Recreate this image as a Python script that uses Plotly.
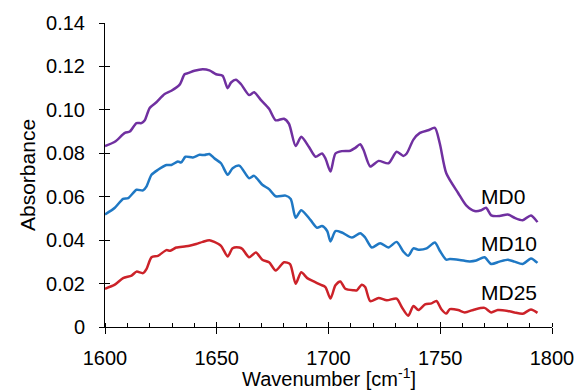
import plotly.graph_objects as go

# FTIR absorbance spectra, amide I region
wn_md0 = [1600.0, 1604.4, 1608.9, 1611.1, 1614.1, 1616.3, 1617.8, 1620.0, 1623.0, 1626.7,
          1629.7, 1633.4, 1635.6, 1637.1, 1640.0, 1643.7, 1646.7, 1649.7, 1652.6, 1654.9,
          1656.4, 1658.6, 1660.8, 1664.5, 1666.7, 1669.7, 1673.4, 1676.4, 1680.1, 1682.3,
          1685.3, 1687.8, 1691.2, 1694.2, 1697.1, 1698.6, 1700.9, 1703.1, 1706.0, 1709.8,
          1712.0, 1714.2, 1715.7, 1718.7, 1722.4, 1726.8, 1730.5, 1733.5, 1735.0, 1738.0,
          1740.9, 1744.6, 1747.6, 1749.8, 1752.7, 1758.0, 1761.6, 1765.4, 1768.3, 1770.5,
          1772.8, 1776.5, 1780.2, 1783.2, 1786.9, 1790.6, 1793.5]
abs_md0 = [0.0833, 0.0853, 0.0894, 0.0900, 0.0939, 0.0939, 0.0952, 0.1009, 0.1035, 0.1073,
           0.1088, 0.1116, 0.1164, 0.1169, 0.1180, 0.1187, 0.1182, 0.1164, 0.1157, 0.1100,
           0.1126, 0.1139, 0.1119, 0.1068, 0.1081, 0.1046, 0.1005, 0.0952, 0.0959, 0.0936,
           0.0833, 0.0876, 0.0830, 0.0784, 0.0799, 0.0777, 0.0716, 0.0799, 0.0810, 0.0812,
           0.0825, 0.0842, 0.0815, 0.0739, 0.0765, 0.0754, 0.0807, 0.0788, 0.0799, 0.0863,
           0.0894, 0.0906, 0.0917, 0.0845, 0.0708, 0.0617, 0.0560, 0.0534, 0.0538, 0.0549,
           0.0514, 0.0511, 0.0518, 0.0503, 0.0492, 0.0514, 0.0483]

wn_md10 = [1600.0, 1604.4, 1608.1, 1610.4, 1614.1, 1617.0, 1618.6, 1620.8, 1623.7, 1627.5,
           1629.7, 1632.6, 1634.1, 1636.0, 1639.3, 1642.3, 1644.5, 1646.7, 1648.9, 1651.9,
           1654.9, 1657.1, 1660.1, 1664.5, 1666.7, 1670.4, 1673.4, 1676.4, 1680.8, 1683.1,
           1685.3, 1687.8, 1692.0, 1694.9, 1697.1, 1699.4, 1700.9, 1703.1, 1706.0, 1710.5,
           1714.2, 1716.4, 1719.4, 1723.1, 1726.8, 1730.5, 1733.5, 1735.7, 1738.0, 1740.2,
           1743.9, 1747.6, 1749.8, 1752.7, 1754.3, 1758.7, 1763.2, 1766.1, 1769.8, 1772.8,
           1776.5, 1780.2, 1783.2, 1786.9, 1790.6, 1793.5]
abs_md10 = [0.0518, 0.0549, 0.0590, 0.0594, 0.0632, 0.0629, 0.0648, 0.0701, 0.0724, 0.0746,
            0.0746, 0.0762, 0.0758, 0.0784, 0.0781, 0.0793, 0.0792, 0.0797, 0.0777, 0.0754,
            0.0701, 0.0731, 0.0743, 0.0685, 0.0696, 0.0655, 0.0635, 0.0602, 0.0605, 0.0590,
            0.0503, 0.0538, 0.0492, 0.0457, 0.0465, 0.0442, 0.0394, 0.0442, 0.0435, 0.0412,
            0.0432, 0.0412, 0.0366, 0.0386, 0.0366, 0.0392, 0.0347, 0.0328, 0.0362, 0.0356,
            0.0362, 0.0389, 0.0351, 0.0310, 0.0313, 0.0309, 0.0302, 0.0306, 0.0321, 0.0290,
            0.0301, 0.0310, 0.0301, 0.0290, 0.0316, 0.0295]

wn_md25 = [1600.0, 1604.4, 1608.1, 1611.9, 1614.1, 1617.0, 1618.6, 1620.8, 1623.7, 1627.5,
           1629.2, 1631.9, 1635.6, 1637.8, 1640.8, 1643.7, 1646.7, 1648.9, 1651.9, 1654.9,
           1657.1, 1660.1, 1661.5, 1664.5, 1667.5, 1670.4, 1673.4, 1676.4, 1680.1, 1682.8,
           1685.3, 1687.8, 1690.5, 1693.4, 1696.4, 1698.6, 1700.9, 1703.1, 1705.3, 1707.5,
           1711.2, 1712.7, 1714.9, 1716.4, 1718.7, 1722.4, 1726.1, 1730.5, 1732.7, 1735.7,
           1738.0, 1740.2, 1743.2, 1746.1, 1748.3, 1750.5, 1752.7, 1754.3, 1758.0, 1761.0,
           1765.4, 1769.8, 1772.8, 1775.7, 1780.2, 1783.2, 1786.9, 1790.6, 1793.5]
abs_md25 = [0.0176, 0.0195, 0.0225, 0.0237, 0.0255, 0.0248, 0.0268, 0.0321, 0.0328, 0.0354,
            0.0351, 0.0366, 0.0371, 0.0374, 0.0382, 0.0392, 0.0400, 0.0392, 0.0374, 0.0325,
            0.0363, 0.0366, 0.0359, 0.0321, 0.0343, 0.0310, 0.0298, 0.0260, 0.0298, 0.0290,
            0.0199, 0.0252, 0.0225, 0.0210, 0.0195, 0.0184, 0.0131, 0.0192, 0.0210, 0.0176,
            0.0169, 0.0169, 0.0195, 0.0184, 0.0119, 0.0134, 0.0123, 0.0131, 0.0093, 0.0052,
            0.0097, 0.0078, 0.0104, 0.0109, 0.0120, 0.0082, 0.0062, 0.0082, 0.0078, 0.0067,
            0.0081, 0.0088, 0.0067, 0.0078, 0.0074, 0.0067, 0.0061, 0.0081, 0.0065]

series_names = ["MD0", "MD10", "MD25"]
series_colors = ["#7030A0", "#1F78C4", "#CC2229"]
# where each series' name is written (right edge of text, vertical centre)
label_x = [1789.0, 1794.3, 1794.0]
label_y = [0.0602, 0.0385, 0.0157]

x_ticks = [1600, 1650, 1700, 1750, 1800]
y_ticks = [0, 0.02, 0.04, 0.06, 0.08, 0.10, 0.12, 0.14]
y_tick_text = ["0", "0.02", "0.04", "0.06", "0.08", "0.10", "0.12", "0.14"]

FONT = "Arial, Liberation Sans, sans-serif"

fig = go.Figure()
for wn, a, name, color in zip([wn_md0, wn_md10, wn_md25],
                              [abs_md0, abs_md10, abs_md25],
                              series_names, series_colors):
    fig.add_trace(go.Scatter(x=wn, y=a, mode="lines", name=name,
                             line=dict(color=color, width=2.5, shape="spline", smoothing=0.7)))

# invisible trace so the companion axes (inward tick halves) get drawn
fig.add_trace(go.Scatter(x=[None], y=[None], xaxis="x2", yaxis="y2",
                         showlegend=False, hoverinfo="skip"))

for name, color, lx, ly in zip(series_names, series_colors, label_x, label_y):
    fig.add_annotation(x=lx, y=ly, text=name, showarrow=False, xanchor="right",
                       yanchor="middle", font=dict(family=FONT, size=21, color="black"))

fig.add_annotation(xref="paper", yref="paper", x=0.5, y=0, yanchor="bottom", yshift=-64,
                   text="Wavenumber [cm<sup>-1</sup>]", showarrow=False, borderpad=0,
                   font=dict(family=FONT, size=20, color="black"))
fig.add_annotation(xref="paper", yref="paper", x=0, y=0.5, xanchor="center", xshift=-78,
                   text="Absorbance", textangle=-90, showarrow=False,
                   font=dict(family=FONT, size=21, color="black"))

axis_font = dict(family=FONT, size=20, color="black")
fig.update_layout(
    width=586, height=392,
    margin=dict(l=105, r=31, t=20, b=65),
    paper_bgcolor="white", plot_bgcolor="white",
    showlegend=False,
    xaxis=dict(range=[1600, 1800], tickvals=x_ticks, ticks="outside", ticklen=6,
               tickwidth=1, tickcolor="black", showline=True, linecolor="black", linewidth=1,
               showgrid=False, zeroline=False, tickfont=axis_font, ticklabelstandoff=7,
               minor=dict(dtick=10, ticks="inside", ticklen=4, tickcolor="black", showgrid=False)),
    yaxis=dict(range=[0, 0.14], tickvals=y_ticks, ticktext=y_tick_text, ticks="outside",
               ticklen=5, tickwidth=1, tickcolor="black", showline=True, linecolor="black",
               linewidth=1, showgrid=False, zeroline=False, tickfont=axis_font,
               ticklabelstandoff=10),
    xaxis2=dict(range=[1600, 1800], overlaying="x", anchor="y2", tickvals=x_ticks,
                ticks="inside", ticklen=5, tickcolor="black", showticklabels=False,
                showline=False, showgrid=False, zeroline=False),
    yaxis2=dict(range=[0, 0.14], overlaying="y", anchor="x2", tickvals=y_ticks,
                ticks="inside", ticklen=5, tickcolor="black", showticklabels=False,
                showline=False, showgrid=False, zeroline=False),
)

fig.write_html("out.html")
